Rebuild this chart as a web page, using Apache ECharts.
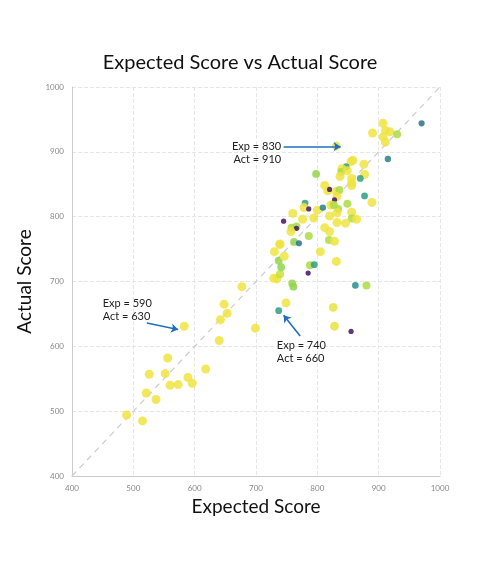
<!DOCTYPE html>
<html>
<head>
<meta charset="utf-8">
<script src="https://cdn.jsdelivr.net/npm/echarts@6/dist/echarts.min.js"></script>
<style>html,body{margin:0;background:#fff}#c{width:480px;height:580px}</style>
</head>
<body>
<div id="c"></div>
<script>
// expected, actual, weight (drives colour + size)
const expected = [489,515,521,526,537,552,556,560,573,589,596,583,618,640,642,648,653,677,699,
  729,734,737,749,739,737,741,746,730,739,759,761,788,795,785,805,831,862,826,828,855,880,
  970,907,890,911,918,907,911,930,831,915,798,858,855,876,847,840,839,849,877,837,856,870,856,856,
  812,817,820,831,836,832,828,877,889,849,780,778,786,800,809,822,827,834,832,820,856,760,776,794,
  745,856,864,832,846,758,766,766,757,812,820,786,739,762,770,819,828];
const actual = [494,485,528,557,518,558,582,540,541,552,543,631,565,609,641,665,651,692,628,
  705,704,655,667,711,732,722,739,746,757,697,692,725,726,713,746,731,694,660,631,623,694,
  944,944,929,933,931,923,915,927,909,889,866,887,885,881,877,874,869,871,865,862,859,859,852,848,
  848,840,842,839,841,831,826,832,822,820,821,814,812,810,814,818,818,812,806,801,807,805,796,798,
  793,797,796,791,790,783,785,782,777,783,777,770,758,761,759,764,762];
const weight = [1,1,1,1,1,1,1,1,1,1,1,1,1,1,1,1,1,1,1,
  1,1,0.45,1,0.8,0.7,0.7,1,1,1,0.7,0.7,0.75,0.45,0.05,1,1,0.4,0.95,0.95,0.05,0.75,
  0.3,1,1,1,1,1,1,0.75,0.95,0.35,0.7,1,1,1,0.45,1,0.75,1,1,1,1,0.45,1,1,
  1,1,0.05,1,0.75,1,0.05,0.45,1,0.75,0.45,1,0.05,1,0.35,1,0.75,0.75,1,1,1,1,1,1,
  0.05,0.75,1,1,1,0.75,0.75,0.05,1,1,1,0.75,1,0.7,0.3,0.75,1];

const notes = [
  {text: 'Exp = 830\nAct = 910', at: [741, 918], align: 'right', from: [745, 908], to: [838, 908]},
  {text: 'Exp = 590\nAct = 630', at: [450, 676], align: 'left', from: [522, 636], to: [573, 626]},
  {text: 'Exp = 740\nAct = 660', at: [734, 612], align: 'left', from: [772, 616], to: [745, 648]}
];

const pts = expected.map((x, i) => [x, actual[i], weight[i]]);
const axisCommon = {
  min: 400, max: 1000, interval: 100,
  axisLine: {lineStyle: {color: '#ccc'}}, axisTick: {show: false},
  axisLabel: {color: '#888', fontSize: 8, fontFamily: 'Lato', formatter: v => String(v)},
  splitLine: {lineStyle: {type: 'dashed', color: '#e6e6e6'}},
  nameLocation: 'middle', nameTextStyle: {fontSize: 19, color: '#111', fontFamily: 'Lato'}
};

const chart = echarts.init(document.getElementById('c'));
chart.setOption({
  animation: false,
  title: {text: 'Expected Score vs Actual Score', left: 'center', top: 48,
    textStyle: {fontSize: 20, fontWeight: 'normal', color: '#111', fontFamily: 'Lato'}},
  grid: {left: 72, right: 40, top: 87, bottom: 104},
  xAxis: Object.assign({}, axisCommon, {name: 'Expected Score', nameGap: 20}),
  yAxis: Object.assign({}, axisCommon, {name: 'Actual Score', nameGap: 18}),
  visualMap: {show: false, dimension: 2, min: 0, max: 1,
    inRange: {color: ['#440154', '#3b528b', '#21918c', '#5ec962', '#c8e03a', '#f0e442'], symbolSize: [5, 9]}},
  series: [
    {type: 'line', data: [[400, 400], [1000, 1000]], symbol: 'none', silent: true,
      lineStyle: {color: '#ccc', type: [6, 5], width: 1.2}, z: 1},
    {type: 'scatter', data: pts, itemStyle: {opacity: 0.85}, z: 3},
    {type: 'line', data: [], markLine: {silent: true, symbol: ['none', 'arrow'], symbolSize: 7,
      lineStyle: {color: '#1f6fbf', width: 1.6, type: 'solid'}, label: {show: false},
      data: notes.map(n => [{coord: n.from}, {coord: n.to}])}}
  ]
});
chart.setOption({graphic: notes.map(n => {
  const p = chart.convertToPixel({gridIndex: 0}, n.at);
  return {type: 'text', x: p[0], y: p[1],
    style: {text: n.text, fill: '#222', fontSize: 11, fontFamily: 'Lato', lineHeight: 13, align: n.align}};
})});
</script>
</body>
</html>
